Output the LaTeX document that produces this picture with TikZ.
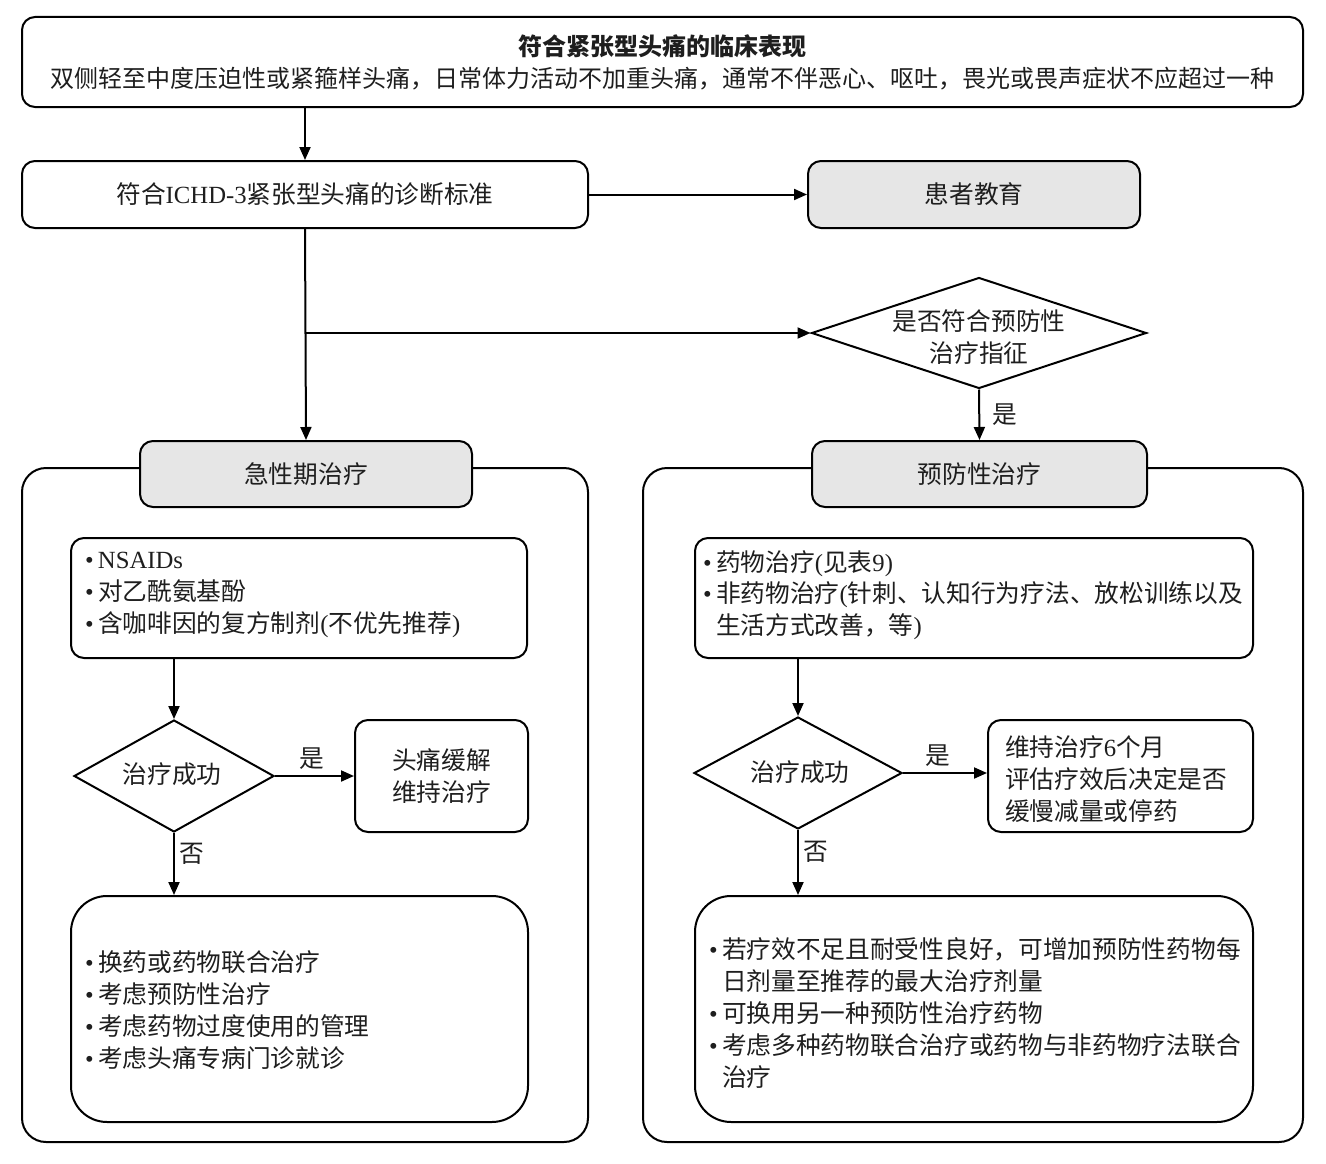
\documentclass[tikz,border=0pt]{standalone}
\usepackage{fontspec}
\setmainfont{Noto Sans CJK SC}
\newfontfamily\lat{Liberation Serif}
\usetikzlibrary{shapes.geometric,arrows.meta}
\definecolor{boxgray}{HTML}{E6E6E6}
\definecolor{ink}{HTML}{1E1E1E}
\newcommand\fs{\fontsize{24.7}{31.8}\selectfont}
\newcommand\fst{\fontsize{24}{31.8}\selectfont}
\newcommand\bul{\makebox[13pt][l]{\lat•}}
\newcommand\ind{\hspace*{13pt}}
\begin{document}
\begin{tikzpicture}[x=1pt,y=-1pt,line width=2pt,
  box/.style={draw, rounded corners=13pt, inner sep=0pt, text=ink, font=\fs, align=center},
  gbox/.style={box, fill=boxgray},
  bigbox/.style={box, rounded corners=36pt},
  panel/.style={draw, rounded corners=24pt, inner sep=0pt},
  dia/.style={draw, diamond, inner sep=0pt},
  txt/.style={inner sep=0pt, align=left, font=\fs, text=ink},
  ctxt/.style={inner sep=0pt, align=center, font=\fs, text=ink},
  arr/.style={-{Triangle[length=13pt,width=11pt]}, line width=2pt},
  lab/.style={inner sep=0pt, font=\fs, text=ink}]
\useasboundingbox (0,0) rectangle (1326,1164);

% top
\node[box, font=\fst, minimum width=1281, minimum height=90] (top) at (662.5,62)
  {\textbf{符合紧张型头痛的临床表现}\\双侧轻至中度压迫性或紧箍样头痛，日常体力活动不加重头痛，通常不伴恶心、呕吐，畏光或畏声症状不应超过一种};
\node[box, minimum width=566, minimum height=67] (ic) at (305,194.5)
  {符合{\lat ICHD-3}紧张型头痛的诊断标准};
\node[gbox, minimum width=332, minimum height=67] (edu) at (974,194.5) {患者教育};
\node[dia, minimum width=335, minimum height=111] (d0) at (979,333) {};
\node[ctxt] (d0t) at (979,337) {是否符合预防性\\治疗指征};

% panels
\node[panel, minimum width=566, minimum height=674] (lp) at (305,805) {};
\node[panel, minimum width=660, minimum height=674] (rp) at (973,805) {};
\node[gbox, minimum width=332, minimum height=66] (acute) at (306,474) {急性期治疗};
\node[gbox, minimum width=335, minimum height=66] (prev) at (979.5,474) {预防性治疗};

% left panel
\node[box, minimum width=456, minimum height=120] (a1) at (299,598) {};
\node[txt, anchor=west] (a1t) at (84,595)
  {\bul{\lat NSAIDs}\\\bul 对乙酰氨基酚\\\bul 含咖啡因的复方制剂{\lat(}不优先推荐{\lat)}};
\node[dia, minimum width=200, minimum height=112] (ld) at (174,776) {};
\node[ctxt] (ldt) at (172,774) {治疗成功};
\node[box, minimum width=173, minimum height=112] (a2) at (441.5,776) {头痛缓解\\维持治疗};
\node[bigbox, minimum width=457, minimum height=226] (a3) at (299.5,1009) {};
\node[txt, anchor=west] (a3t) at (84,1010)
  {\bul 换药或药物联合治疗\\\bul 考虑预防性治疗\\\bul 考虑药物过度使用的管理\\\bul 考虑头痛专病门诊就诊};

% right panel
\node[box, minimum width=558, minimum height=120] (p1) at (974,598) {};
\node[txt, anchor=west] (p1t) at (702,595)
  {\bul 药物治疗{\lat(}见表{\lat 9)}\\\bul 非药物治疗{\lat(}针刺、认知行为疗法、放松训练以及\\\ind 生活方式改善，等{\lat)}};
\node[dia, minimum width=208, minimum height=112] (rd) at (798,773) {};
\node[ctxt] (rdt) at (800,772) {治疗成功};
\node[box, minimum width=265, minimum height=112] (p2) at (1120.5,776) {};
\node[txt, anchor=west] (p2t) at (1004,779)
  {维持治疗{\lat 6}个月\\评估疗效后决定是否\\缓慢减量或停药};
\node[bigbox, minimum width=558, minimum height=226] (p3) at (974,1009) {};
\node[txt, anchor=west] (p3t) at (708,1013)
  {\bul 若疗效不足且耐受性良好，可增加预防性药物每\\\ind 日剂量至推荐的最大治疗剂量\\\bul 可换用另一种预防性治疗药物\\\bul 考虑多种药物联合治疗或药物与非药物疗法联合\\\ind 治疗};

% connectors
\draw[arr] (ic.north |- top.south) -- (ic.north);
\draw[arr] (ic.east) -- (edu.west);
\draw[arr] (ic.south) -- (acute.north);
\draw[arr] (ic.south |- d0.west) -- (d0.west);
\draw[arr] (d0.south) -- node[lab, right=12pt] (y0) {是} (prev.north);
\draw[arr] (ld.north |- a1.south) -- (ld.north);
\draw[arr] (ld.east) -- node[lab, above=6pt, xshift=-3pt] (y1) {是} (a2.west);
\draw[arr] (ld.south) -- node[lab, right=4pt, pos=0.33] (n1) {否} (ld.south |- a3.north);
\draw[arr] (rd.north |- p1.south) -- (rd.north);
\draw[arr] (rd.east) -- node[lab, above=6pt, xshift=-7pt] (y2) {是} (rd.east -| p2.west);
\draw[arr] (rd.south) -- node[lab, right=4pt, pos=0.33] (n2) {否} (rd.south |- p3.north);
\end{tikzpicture}
\end{document}
